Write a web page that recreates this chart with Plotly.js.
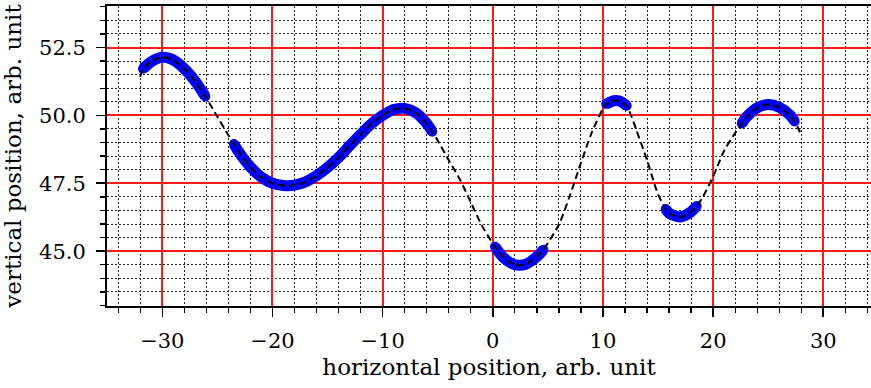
<!DOCTYPE html>
<html>
<head>
<meta charset="utf-8">
<script src="https://cdn.plot.ly/plotly-3.0.1.min.js"></script>
<style>html,body{margin:0;padding:0;background:#fff;}#chart{width:871px;height:388px;}</style>
</head>
<body>
<div id="chart"></div>
<script>
// Curve samples (horizontal position, vertical position)
const xPos = [-32, -31.75, -31, -30, -29, -28, -27, -26.1, -25, -24, -23.5, -23, -22, -21, -20, -19, -18, -17, -16, -15, -14, -13, -12, -11, -10, -9, -8, -7, -6, -5.5, -5, -4, -3, -2, -1, 0, 0.2, 1, 2, 3, 4, 4.6, 5, 6, 7, 8, 9, 10, 10.3, 11, 11.5, 12.15, 12.5, 13, 14, 15, 15.7, 16, 17, 18, 18.5, 19, 20, 21, 22, 22.6, 23, 24, 25, 26, 27, 27.4, 28];
const yPos = [51.42, 51.72, 51.98, 52.14, 52.04, 51.72, 51.25, 50.70, 49.95, 49.27, 48.95, 48.62, 48.10, 47.72, 47.50, 47.42, 47.43, 47.55, 47.78, 48.08, 48.45, 48.88, 49.30, 49.70, 50.00, 50.22, 50.26, 50.10, 49.70, 49.40, 49.08, 48.35, 47.65, 46.80, 45.95, 45.28, 45.16, 44.75, 44.50, 44.52, 44.80, 45.05, 45.30, 45.98, 47.05, 48.25, 49.38, 50.25, 50.42, 50.54, 50.53, 50.36, 50.05, 49.50, 48.35, 47.10, 46.55, 46.40, 46.26, 46.45, 46.66, 46.95, 47.75, 48.70, 49.35, 49.70, 49.93, 50.28, 50.40, 50.30, 50.00, 49.78, 49.28];
// Highlighted (blue) segments: start / end horizontal positions
const segStart = [-31.75, -23.5, 0.2, 10.3, 15.7, 22.6];
const segEnd   = [-26.1, -5.5, 4.6, 12.15, 18.5, 27.4];
// Axis ticks
const xTicks = [-30, -20, -10, 0, 10, 20, 30];
const xTickText = ['\u221230', '\u221220', '\u221210', '0', '10', '20', '30'];
const yTicks = [45.0, 47.5, 50.0, 52.5];
const yTickText = ['45.0', '47.5', '50.0', '52.5'];

const bx = [], by = [];
segStart.forEach((s, k) => {
  const e = segEnd[k];
  xPos.forEach((x, i) => { if (x >= s && x <= e) { bx.push(x); by.push(yPos[i]); } });
  bx.push(null); by.push(null);
});

// minor tick positions (every 2 units in x, 0.5 in y), excluding major ticks
function minorVals(lo, hi, step, majors) {
  const out = [];
  const n0 = Math.ceil(lo / step), n1 = Math.floor(hi / step);
  for (let n = n0; n <= n1; n++) {
    const v = +(n * step).toFixed(6);
    if (!majors.some(m => Math.abs(m - v) < 1e-6)) out.push(v);
  }
  return out;
}
const xRange = [-35.02, 34.33], yRange = [42.98, 54.03];
const xMinor = minorVals(xRange[0], xRange[1], 2, xTicks);
const yMinor = minorVals(yRange[0], yRange[1], 0.5, yTicks);

const FONT = 'DejaVu Serif, Liberation Serif, serif';
const traces = [
  { x: bx, y: by, type: 'scatter', mode: 'lines+markers', connectgaps: false,
    line: { color: '#0000ff', width: 11, shape: 'spline', smoothing: 0.8 },
    marker: { color: '#0000ff', size: 10, line: { width: 0 } }, hoverinfo: 'skip', showlegend: false },
  { x: xPos, y: yPos, type: 'scatter', mode: 'lines',
    line: { color: '#000000', width: 2, dash: '7px,4px', shape: 'spline', smoothing: 0.8 },
    hoverinfo: 'skip', showlegend: false }
];

const minorStyle = { ticks: 'outside', ticklen: 5, tickwidth: 1.3, tickcolor: '#000',
  showgrid: true, gridcolor: '#222', gridwidth: 1, griddash: '1.5px,2.5px', tickmode: 'array' };

const layout = {
  width: 871, height: 388,
  margin: { l: 107, r: 0, t: 6, b: 82 },
  paper_bgcolor: '#ffffff', plot_bgcolor: '#ffffff',
  font: { family: FONT, size: 21, color: '#000' },
  showlegend: false,
  xaxis: {
    range: xRange, tickmode: 'array', tickvals: xTicks, ticktext: xTickText,
    ticks: 'outside', ticklen: 9, tickwidth: 1.6, tickcolor: '#000',
    showline: true, linecolor: '#000', linewidth: 2, mirror: true,
    showgrid: true, gridcolor: '#ff1a1a', gridwidth: 2, zeroline: false,
    tickfont: { family: FONT, size: 21, color: '#000' },
    ticklabelstandoff: 6,
    minor: Object.assign({ tickvals: xMinor }, minorStyle),
    title: { text: 'horizontal position, arb. unit', font: { family: FONT, size: 23, color: '#000' }, standoff: 7 }
  },
  yaxis: {
    range: yRange, tickmode: 'array', tickvals: yTicks, ticktext: yTickText,
    ticks: 'outside', ticklen: 9, tickwidth: 1.6, tickcolor: '#000',
    showline: true, linecolor: '#000', linewidth: 2, mirror: true,
    showgrid: true, gridcolor: '#ff1a1a', gridwidth: 2, zeroline: false,
    tickfont: { family: FONT, size: 21, color: '#000' },
    ticklabelstandoff: 6,
    minor: Object.assign({ tickvals: yMinor }, minorStyle),
    title: { text: 'vertical position, arb. unit', font: { family: FONT, size: 23, color: '#000' }, standoff: 11 }
  }
};

Plotly.newPlot('chart', traces, layout, { staticPlot: true, displayModeBar: false });
</script>
</body>
</html>
